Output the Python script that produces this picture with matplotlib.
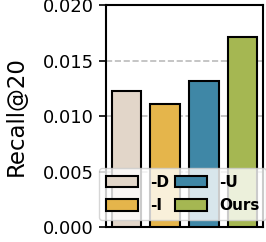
import numpy as np
import matplotlib.pyplot as plt

variants = ['-D', '-I', '-U', 'Ours']
recall20 = [0.0123, 0.0111, 0.0132, 0.0171]
colors = ['#e2d6c9', '#e5b54b', '#3f87a6', '#a5b752']

fig = plt.figure(figsize=(2.66, 2.42), dpi=100)
ax = fig.add_axes([0.398, 0.062, 0.591, 0.917])

x = np.arange(len(variants))
for i in range(len(variants)):
    ax.bar(x[i], recall20[i], width=0.75, color=colors[i], edgecolor='black',
           linewidth=1.5, label=variants[i], zorder=3)

ax.set_xlim(-0.52, 3.52)
ax.set_ylim(0, 0.02)
ax.set_yticks([0, 0.005, 0.01, 0.015, 0.02])
ax.set_yticklabels(['0.000', '0.005', '0.010', '0.015', '0.020'], fontsize=13)
ax.set_xticks([])
ax.tick_params(axis='y', length=5, width=1.2)
ax.set_ylabel('Recall@20', fontsize=16.5, labelpad=11)
ax.yaxis.grid(True, linestyle='--', color='#bbbbbb', linewidth=1.2, zorder=0)
for s in ax.spines.values():
    s.set_linewidth(1.5)

ax.legend(ncol=2, loc='lower center', bbox_to_anchor=(0.49, 0.0),
          prop={'weight': 'bold', 'size': 11},
          handlelength=2.1, handleheight=0.75, handletextpad=0.8,
          columnspacing=0.35, borderpad=0.45, labelspacing=0.55,
          framealpha=0.8, borderaxespad=0.45)

fig.savefig('out.png', dpi=100)
